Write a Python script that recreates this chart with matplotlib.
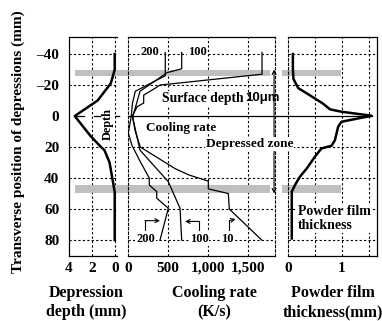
import matplotlib.pyplot as plt
import matplotlib.transforms as mtransforms
from matplotlib.patches import Rectangle
from matplotlib.lines import Line2D

plt.rcParams['font.family'] = ['Liberation Serif', 'DejaVu Serif']
plt.rcParams['font.weight'] = 'bold'
plt.rcParams['font.size'] = 11

# transverse position (mm) shared by all panels
pos_ticks = [-40, -20, 0, 20, 40, 60, 80]
pos_labels = ['\u201340', '\u201320', '0', '20', '40', '60', '80']
pos_grid = [-40, -20, 20, 40, 60, 80]

# depression depth (mm)
depth_pos = [-40, -30, -26, -21, -10, 0, 13, 20, 22, 30, 49, 80]
depth_mm = [0.0, 0.0, 0.15, 0.35, 1.5, 3.5, 2.1, 1.2, 0.9, 0.45, 0.0, 0.0]

# cooling rate (K/s) for the three cases 200 / 100 / 10
pos_200 = [-41, -26, -16, -8, 0, 11, 19, 29.5, 40, 44.5, 48.8, 53, 59.5, 80]
cool_200 = [466, 466, 91, 55, 41, 4, 50, 154, 266, 266, 359, 359, 504, 400]
pos_100 = [-41, -30.5, -28, -16, -5, 0, 2.6, 22, 42.4, 59.5, 80]
cool_100 = [671, 671, 488, 150, 90, 60, 66, 150, 504, 650, 671]
pos_10 = [-41, -27, -20, -18, -13.5, -8.4, -6, 0, 10, 20, 34, 38, 42, 47, 50, 60, 80]
cool_10 = [1675, 1675, 400, 341, 196, 196, 113, 55, 91, 154, 591, 760, 1004, 1004,
           1254, 1266, 1671]

# powder film thickness (mm)
film_pos = [-40, -31, -24, -18, -14.6, -8, -4.3, -2.8, -0.2, 3.7, 6.9, 11.2, 15.5,
            19.1, 20.9, 26.2, 33.7, 39.2, 44.5, 48.8, 79]
film_mm = [0.09, 0.09, 0.1, 0.19, 0.35, 0.65, 0.78, 0.99, 1.55, 0.99, 0.93, 0.9,
           0.87, 0.81, 0.62, 0.5, 0.35, 0.22, 0.13, 0.07, 0.07]

# depressed zone boundaries (grey bands)
bands = [(-30, -26), (44.5, 49.5)]

W, H = 382, 321
fig = plt.figure(figsize=(W / 100, H / 100), dpi=100)
ax1 = fig.add_axes([69 / W, 65 / H, 48 / W, 219 / H])
ax2 = fig.add_axes([128 / W, 65 / H, 147 / W, 219 / H])
ax3 = fig.add_axes([288 / W, 65 / H, 89 / W, 219 / H])
ax2.set_zorder(1)

dash = (0, (2, 2))
grid_kw = dict(color='black', lw=0.8, ls=dash, zorder=1)
white = dict(facecolor='white', edgecolor='none', pad=0.6)

for ax in (ax1, ax2, ax3):
    ax.set_facecolor('none')
    ax.set_ylim(90.3, -51)
    ax.tick_params(length=0, labelsize=11, pad=4)
    for v in pos_grid:
        ax.axhline(v, **grid_kw)
    for s in ax.spines.values():
        s.set_linewidth(0.9)

# left panel: depression depth
ax1.set_xlim(4, -0.2)
ax1.set_xticks([4, 2, 0])
ax1.set_xticklabels(['4', '2', '0'])
ax1.set_yticks(pos_ticks)
ax1.set_yticklabels(pos_labels)
ax1.tick_params(axis='y', pad=7)
ax1.spines['right'].set_visible(False)
ax1.axvline(2, **grid_kw)
ax1.axvline(0, **grid_kw)
ax1.plot(depth_mm, depth_pos, color='black', lw=1.8, zorder=3)
ax1.text(0.59, 5.2, 'Depth', rotation=90, ha='center', va='center', fontsize=8.8,
         bbox=white, zorder=5)

# middle panel: cooling rate
ax2.set_xlim(0, 1837)
ax2.set_xticks([0, 500, 1000, 1500])
ax2.set_xticklabels(['0', '500', '1,000', '1,500'])
ax2.set_yticks([])
ax2.spines['left'].set_linestyle(dash)
ax2.spines['right'].set_linestyle(dash)
ax2.spines['left'].set_linewidth(0.8)
ax2.spines['right'].set_linewidth(0.8)
for v in [500, 1000, 1500]:
    ax2.axvline(v, **grid_kw)
for x, y in [(cool_200, pos_200), (cool_100, pos_100), (cool_10, pos_10)]:
    ax2.plot(x, y, color='black', lw=0.9, zorder=3)

# right panel: powder film thickness
ax3.set_xlim(0, 1.65)
ax3.set_xticks([0, 0.5, 1, 1.5])
ax3.set_xticklabels(['0', '', '1', ''])
ax3.set_yticks([])
ax3.spines['left'].set_linestyle(dash)
ax3.spines['left'].set_linewidth(0.8)
for v in [0.5, 1, 1.5]:
    ax3.axvline(v, **grid_kw)
ax3.plot(film_mm, film_pos, color='black', lw=1.8, zorder=3)

# grey bands marking the depressed zone
for ax, x0, x1 in [(ax1, 75, 128), (ax2, 128, 270), (ax3, 282, 341)]:
    tr = mtransforms.blended_transform_factory(fig.transFigure, ax.transData)
    for b0, b1 in bands:
        ax.add_patch(Rectangle((x0 / W, b0), (x1 - x0) / W, b1 - b0, transform=tr,
                               facecolor='#bfbfbf', edgecolor='none', zorder=1.5,
                               clip_on=False))

# zero lines
tr1 = mtransforms.blended_transform_factory(fig.transFigure, ax1.transData)
ax1.add_line(Line2D([76 / W, 130 / W], [0, 0], transform=tr1, color='black', lw=0.9,
                    ls=(0, (7, 7)), zorder=2, clip_on=False))
tr2 = mtransforms.blended_transform_factory(fig.transFigure, ax2.transData)
peak_x = (288 + max(film_mm) / 1.65 * 89) / W
ax2.add_line(Line2D([128 / W, peak_x], [0, 0], transform=tr2, color='black', lw=0.9,
                    zorder=2, clip_on=False))

# depressed zone arrow
ax2.annotate('', xy=(1825, -30), xytext=(1825, 50),
             arrowprops=dict(arrowstyle='<->', lw=0.8, color='black', shrinkA=0,
                             shrinkB=0, mutation_scale=7), zorder=2)

# case labels
for x, y, s in [(275, -41, '200'), (862, -41, '100'), (221, 79.5, '200'),
                (887, 79.5, '100'), (1244, 79.5, '10')]:
    ax2.text(x, y, s, ha='center', va='center', fontsize=9, bbox=white, zorder=5)

# bent arrows to the curves
ax2.plot([212, 212], [73.5, 67.5], color='black', lw=0.8, zorder=4)
ax2.annotate('', xy=(400, 67.5), xytext=(212, 67.5),
             arrowprops=dict(arrowstyle='->', lw=0.8, color='black', shrinkA=0,
                             shrinkB=0, mutation_scale=7))
ax2.plot([891, 891], [73.5, 68], color='black', lw=0.8, zorder=4)
ax2.annotate('', xy=(713, 68), xytext=(891, 68),
             arrowprops=dict(arrowstyle='->', lw=0.8, color='black', shrinkA=0,
                             shrinkB=0, mutation_scale=7))
ax2.plot([1266, 1266], [73.5, 67.5], color='black', lw=0.8, zorder=4)
ax2.annotate('', xy=(1345, 66.5), xytext=(1266, 67.5),
             arrowprops=dict(arrowstyle='->', lw=0.8, color='black', shrinkA=0,
                             shrinkB=0, mutation_scale=7))

ax2.text(421, -11.4, 'Surface depth', ha='left', va='center', fontsize=9.8,
         bbox=white, zorder=5)
ax2.text(1462, -11.4, '10\u03bcm', ha='left', va='center', fontsize=9.5,
         family=['Liberation Sans', 'DejaVu Sans'], fontweight='bold', zorder=5)
ax2.text(225, 7.5, 'Cooling rate', ha='left', va='center', fontsize=9.5,
         bbox=white, zorder=5)
ax2.text(975, 18.1, 'Depressed zone', ha='left', va='center', fontsize=9.5,
         bbox=white, zorder=5)
ax3.text(0.185, 66, 'Powder film\nthickness', ha='left', va='center', fontsize=10,
         linespacing=1.15, bbox=white, zorder=5)

# axis titles
fig.text(18 / W, 1 - 142 / H, 'Transverse position of depressions (mm)', rotation=90,
         ha='center', va='center', fontsize=11)
for xc, l1, l2 in [(86, 'Depression', 'depth (mm)'), (214, 'Cooling rate', '(K/s)'),
                   (333, 'Powder film', 'thickness(mm)')]:
    fig.text(xc / W, 1 - 293 / H, l1, ha='center', va='center', fontsize=11.5)
    fig.text(xc / W, 1 - 312 / H, l2, ha='center', va='center', fontsize=11.5)

fig.savefig('out.png', dpi=100)
